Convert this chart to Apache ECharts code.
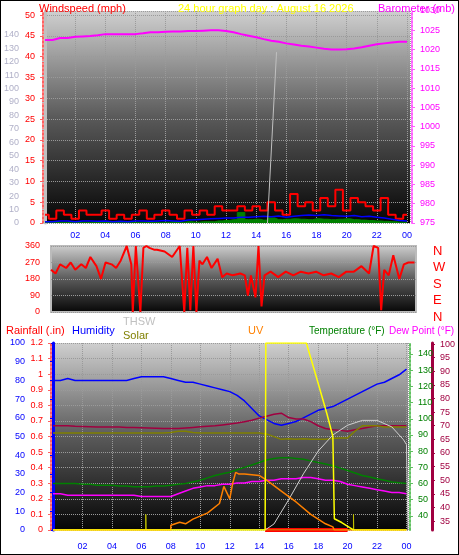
<!DOCTYPE html><html><head><meta charset="utf-8">
<script src="https://cdn.jsdelivr.net/npm/echarts@6/dist/echarts.min.js"></script>
<style>html,body{margin:0;background:#fff}#c{width:459px;height:555px;box-sizing:border-box;border:1px solid #000}</style></head><body><div id="c"></div>
<script>
const hours=[0,0.5,1,1.5,2,2.5,3,3.5,4,4.5,5,5.5,6,6.5,7,7.5,8,8.5,9,9.5,10,10.5,11,11.5,12,12.5,13,13.5,14,14.5,15,15.5,16,16.5,17,17.5,18,18.5,19,19.5,20,20.5,21,21.5,22,22.5,23,23.5,24];
const xTicks=['02','04','06','08','10','12','14','16','18','20','22','00'];
const windSpeed=[2,1,3,2,1,3,2,2,3,1,2,1,2,3,1,2,3,2,1,3,2,3,2,4,3,3,4,3,4,3,5,3,2,7,4,5,3,6,4,8,3,6,5,4,3,6,2,1,2];
const windAvg=[0.3,0.3,0.5,0.5,0.3,0.5,0.5,0.4,0.5,0.3,0.4,0.3,0.5,0.5,0.4,0.5,0.6,0.5,0.4,0.7,0.8,0.9,1,1.1,1.2,1.2,1.4,1.4,1.5,1.6,1.5,1.7,1.4,1.6,1.8,1.9,1.8,2,1.8,1.7,1.6,1.8,1.5,1.6,1.4,1.2,0.9,0.6,0.5];
const windGust=[0.1,0.1,0.1,0.1,0.1,0.1,0.1,0.1,0.1,0.1,0.1,0.1,0.1,0.1,0.1,0.1,0.2,0.3,0.2,0.3,0.2,0.3,0.3,0.5,0.6,0.8,2.5,0.8,0.9,0.7,1.2,0.8,0.9,1,0.9,0.8,1,0.9,0.8,0.9,1,0.8,0.7,0.6,0.5,0.4,0.3,0.2,0.1];
const baro=[1022.5,1022.5,1023,1023,1023.3,1023.4,1023.5,1023.7,1024,1024,1024,1024,1024,1024.2,1024.5,1024.5,1024.6,1024.7,1024.7,1024.8,1024.8,1024.9,1025,1025,1024.8,1024.5,1024,1023.6,1023.2,1022.7,1022.3,1022,1021.6,1021.3,1021,1020.8,1020.5,1020.2,1020,1020,1020.1,1020.3,1020.6,1021,1021.4,1021.6,1021.8,1022,1022];
const thswTop=[[14.75,0],[15.35,127]];
const dirTime=[0,0.3,0.6,1,1.3,1.6,2,2.3,2.6,3,3.3,3.6,4,4.3,4.6,5,5.3,5.4,5.6,5.9,6.1,6.3,6.5,6.8,7,7.5,8,8.5,8.8,9,9.2,9.4,9.6,9.8,10,10.3,10.6,11,11.3,11.6,12,12.5,12.8,13,13.2,13.5,13.7,13.9,14.1,14.5,15,15.5,16,16.5,17,17.5,18,18.5,19,19.5,20,20.5,21,21.3,21.6,21.8,22,22.3,22.6,23,23.3,23.6,24];
const dirVal=[230,210,260,240,270,230,260,240,300,250,180,270,260,240,280,360,260,0,360,0,350,360,350,340,340,330,300,360,0,350,10,360,0,280,260,300,240,290,190,210,200,210,200,90,200,80,360,30,200,220,190,220,200,220,210,220,200,210,190,220,220,250,210,360,350,10,230,200,310,180,260,270,270];
const humidity=[80,80,81,80,80,80,80,80,80,80,80,81,82,82,82,82,81,80,79,79,78,77,76,75,74,72,69,65,61,59,57,56,57,58,60,62,64,65,66,68,70,72,74,76,78,79,81,83,86];
const temperature=[60,60,60,60,59.5,59.5,59,59,59,58.5,58.5,58,58,58,58.5,58.5,59,59.5,60,61,62,63.5,65,66,67,68.5,70,71.5,73,74.5,75.5,76,76,75.5,75,74,73,72,71,69.5,68,66.5,65,64,63,62,61,60.5,60];
const dewPoint=[45,45,44.5,44.5,44.5,44.5,44.5,44.5,44.5,44.5,44.5,44.5,44,44,44,44,44,45,46,47,47.5,48,48,48.5,48.5,49,49,49.5,49.5,50,50,50.5,50.5,50.5,51,51,50.5,50,50,49.5,48.5,48,47.5,47,46.5,46,45.5,45.5,45];
const tempIn=[70,70,70,69.8,69.7,69.6,69.5,69.5,69.5,69.5,69.4,69.4,69.3,69.2,69.1,69,69,69,69.2,69.4,69.6,69.8,70,70.3,70.6,71,71.5,72,72.8,73.5,74.2,74.6,73,72.5,72.5,71.5,70,69,68.5,68.3,68,68.5,69,69.5,70,70,70,70,70];
const solarLine=[67.3,67.3,67.3,67.3,67.3,67.3,67.3,67.3,67.3,67.3,67.3,67.3,67.3,67.3,67.3,67.3,67.5,68,68,67.5,67.3,67.3,67.3,67.3,67.3,67.3,67.3,67.3,67.3,67,66,65,65.2,65,65.2,65,65,65,65.3,65.5,65.5,68,70,70,70,69.5,69.5,69.5,69.5];
const thsw=[[0,31.3],[14.4,31.3],[15,35],[16,50],[17,66],[18,80],[19,90],[20,96],[21,99],[22,99],[23,95],[23.8,87],[24,84],[24.1,31.3]];
const uv=[[0,0],[8,0],[8,0.03],[8.6,0.05],[9,0.04],[9.5,0.07],[10.5,0.11],[11.3,0.17],[11.6,0.28],[12,0.2],[12.2,0.3],[12.4,0.37],[12.6,0.36],[13,0.36],[14,0.35],[14.5,0.32],[15.5,0.25],[16.5,0.18],[17.5,0.1],[18.5,0.04],[19,0.02],[19.1,0],[24,0]];
const solar=[[0,0],[14.4,0],[14.45,100],[17.2,100],[17.8,84],[18.6,62],[19,50],[19.1,6],[19.6,4],[20.2,1],[20.4,0],[24,0]];
const rainSpikes=[[6.3,0],[6.3,0.1],[6.32,0],[20.4,0],[20.4,0.1],[20.42,0]];
const rainRate=[[14.4,0],[20,0]];
const grayTicks=[0,10,20,30,40,50,60,70,80,90,100,110,120,130,140];
const tempTicks=[40,50,60,70,80,90,100,110,120,130,140];
const dewTicks=[35,40,45,50,55,60,65,70,75,80,85,90,95,100];

const F='Liberation Sans';
const bg={type:'linear',x:0,y:0,x2:0,y2:1,colorStops:[{offset:0,color:'#cfcfcf'},{offset:0.5,color:'#5a5a5a'},{offset:1,color:'#050505'}]};
const split={show:true,lineStyle:{color:'#9a9a9a',type:'dotted',width:1}};
const pairs=a=>hours.map((h,i)=>[h,a[i]]);
function yA(o){return Object.assign({type:'value',axisTick:{show:true,length:3},splitLine:{show:false}},o);}
function lab(color,extra){return Object.assign({color,fontSize:9,fontFamily:F},extra||{});}
function ln(name,xi,yi,data,color,w,extra){return Object.assign({type:'line',name,xAxisIndex:xi,yAxisIndex:yi,data,symbol:'none',lineStyle:{color,width:w},itemStyle:{color},animation:false},extra||{});}
function tt(text,left,top,color,fs){return {text,left,top,textStyle:{color,fontSize:fs||11,fontWeight:'normal',fontFamily:F}};}
const xBase={type:'value',min:0,max:24.1,interval:2,axisLine:{show:false},axisTick:{show:false},splitLine:split};
const chart=echarts.init(document.getElementById('c'));
chart.setOption({animation:false,backgroundColor:'#fff',
title:[
tt('Windspeed (mph)',33,-3,'#f00'),
tt('24 hour graph day : August 16 2026',172,-3,'#ffff00'),
tt('Barometer (mb)',372,-3,'#ff00ff'),
{text:'N\nW\nS\nE\nN',left:427,top:237,textStyle:{color:'#f00',fontSize:13,fontWeight:'normal',fontFamily:F,lineHeight:16.5}},
tt('Rainfall (.in)',0,319,'#f00'),
tt('Humidity',66,319,'#00f'),
tt('THSW',117,310,'#c0c0c0'),
tt('Solar',117,324,'#808000'),
tt('UV',242,319,'#ff8000'),
tt('Temperature (°F)',303,320,'#008000',10),
tt('Dew Point (°F)',383,320,'#ff00ff',10)],
grid:[
{left:43,top:10,width:366,height:212,show:true,backgroundColor:bg,borderWidth:0},
{left:50,top:245,width:365,height:66,show:true,backgroundColor:bg,borderColor:'#bbb',borderWidth:2},
{left:52,top:342,width:361,height:187,show:true,backgroundColor:bg,borderWidth:0}],
xAxis:[
Object.assign({},xBase,{gridIndex:0,max:24.2,axisLabel:lab('#00f',{margin:8,formatter:v=>v===0?'':xTicks[v/2-1]})}),
Object.assign({},xBase,{gridIndex:1,max:24.1,axisLabel:{show:false},splitLine:{show:false}}),
Object.assign({},xBase,{gridIndex:2,axisLabel:lab('#00f',{margin:12,formatter:v=>v===0?'':xTicks[v/2-1]})})],
yAxis:[
yA({gridIndex:0,min:0,max:157.6,position:'left',offset:18,axisLine:{show:true,lineStyle:{color:'#c0c0c0',width:3}},axisTick:{show:true,length:3,customValues:grayTicks},axisLabel:lab('#b0b0c8',{customValues:grayTicks})}),
yA({gridIndex:0,min:0,max:51,interval:5,position:'left',offset:2,axisLine:{show:true,lineStyle:{color:'#ff6060',width:2,type:'dotted'}},axisLabel:lab('#f00',{formatter:v=>v>50?'':v}),splitLine:split}),
yA({gridIndex:0,min:975,max:1030,interval:5,position:'right',offset:2,axisLine:{show:true,lineStyle:{color:'#ff60ff',width:2,type:'dotted'}},axisLabel:lab('#ff00ff',{formatter:v=>String(v)})}),
yA({gridIndex:1,min:0,max:360,interval:90,position:'left',offset:3,axisLine:{show:false},axisTick:{show:false},axisLabel:lab('#f00'),splitLine:split}),
yA({gridIndex:2,min:0,max:100,interval:10,position:'left',offset:20,axisLine:{show:true,lineStyle:{color:'#0000ff',width:3}},axisLabel:lab('#00f')}),
yA({gridIndex:2,min:0,max:1.2,interval:0.1,position:'left',offset:2,axisLine:{show:true,lineStyle:{color:'#ff6060',width:2,type:'dotted'}},axisLabel:lab('#f00',{formatter:v=>String(+v.toFixed(1))}),splitLine:split}),
yA({gridIndex:2,min:31.3,max:146.8,position:'right',offset:2,axisLine:{show:true,lineStyle:{color:'#60c060',width:2,type:'dotted'}},axisTick:{show:true,length:3,customValues:tempTicks},axisLabel:lab('#008000',{customValues:tempTicks})}),
yA({gridIndex:2,min:31.7,max:100.4,position:'right',offset:24,axisLine:{show:true,lineStyle:{color:'#a00040',width:3}},axisTick:{show:true,length:3,customValues:dewTicks},axisLabel:lab('#a00040',{customValues:dewTicks})})],
series:[
ln('gust',0,1,pairs(windGust),'#008000',1,{areaStyle:{color:'#008000',opacity:1},step:'middle'}),
ln('speed',0,1,pairs(windSpeed),'#ff0000',2,{step:'middle'}),
ln('avg',0,1,pairs(windAvg),'#0000ff',1.5),
ln('thswTop',0,0,thswTop,'#c0c0c0',1),
ln('baro',0,2,pairs(baro),'#ff00ff',2),
ln('dir',1,3,dirTime.map((t,i)=>[t,dirVal[i]]),'#ff0000',2),
ln('rain',2,5,rainRate,'#ff0000',4),
ln('rainSp',2,5,rainSpikes,'#c0c000',1),
ln('humidity',2,4,pairs(humidity),'#0000ff',1.5),
ln('tempIn',2,7,pairs(tempIn),'#a00040',1.5),
ln('solarLine',2,7,pairs(solarLine),'#808000',1.5),
ln('temp',2,6,pairs(temperature),'#008000',1.5),
ln('dew',2,7,pairs(dewPoint),'#ff00ff',1.5),
ln('thsw',2,6,thsw,'#d0d0d0',1),
ln('uv',2,5,uv,'#ff8000',1.5),
ln('solar',2,4,solar,'#ffff00',1.5)]
});
</script></body></html>
